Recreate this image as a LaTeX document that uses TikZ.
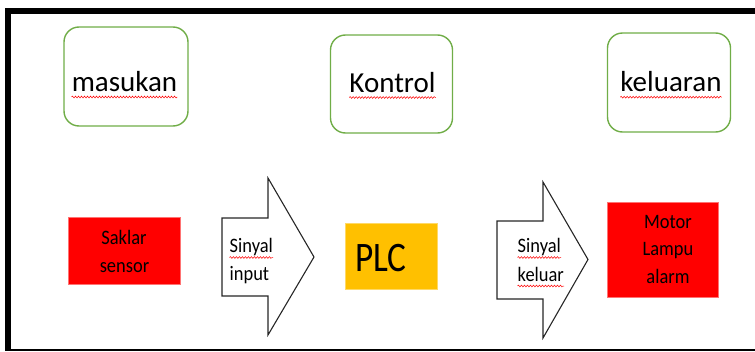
\documentclass[tikz,border=0pt]{standalone}
\usepackage{fontspec}
\setmainfont{Carlito}
\newfontfamily\condfont[FakeStretch=0.9]{Carlito}
\newfontfamily\plcfont[FakeStretch=0.84]{Carlito}
\usetikzlibrary{decorations.pathmorphing}
\definecolor{offgreen}{RGB}{112,173,71}
\definecolor{plcorange}{RGB}{255,192,0}
\begin{document}
\begin{tikzpicture}[x=1pt,y=-1pt,
  greenbox/.style={draw=offgreen,line width=1.4pt,rounded corners=15pt,fill=white,inner sep=0pt},
  redbox/.style={fill=red,draw=red!55!white,line width=0.5pt,inner sep=0pt},
  plcbox/.style={fill=plcorange,draw=plcorange!60!white,line width=0.5pt,inner sep=0pt},
  bigtxt/.style={font=\fontsize{29}{34}\selectfont,anchor=base,inner sep=0pt},
  smalltxt/.style={font=\condfont\fontsize{20.5}{24}\selectfont,anchor=base,inner sep=0pt},
  wavy/.style={draw=red,line width=0.5pt,decorate,decoration={snake,segment length=3pt,amplitude=0.9pt}},
  arrowshape/.style={draw=black!85,line width=1.1pt,fill=white,line join=miter}]
\useasboundingbox (0,0) rectangle (755,351);
% frame
\draw[line width=5.5pt] (7.8,349) -- (7.8,11) -- (760,11);
\draw[line width=2pt] (5,350) -- (760,350);
% top boxes
\node[greenbox,minimum width=124pt,minimum height=99pt] (inbox) at (126,76.5) {};
\node[greenbox,minimum width=122pt,minimum height=98pt] (ctlbox) at (391.5,84) {};
\node[greenbox,minimum width=123pt,minimum height=99pt] (outbox) at (669,82.5) {};
\node[bigtxt] (tin) at (124.5,91.5) {masukan};
\node[bigtxt] (tctl) at (392.5,92) {Kontrol};
\node[bigtxt] (tout) at (671,91.7) {keluaran};
\draw[wavy] ([yshift=-5.5pt]tin.base west) -- ([yshift=-5.5pt]tin.base east);
\draw[wavy] ([yshift=-5.5pt]tctl.base west) -- ([yshift=-5.5pt]tctl.base east);
\draw[wavy] ([yshift=-5.5pt]tout.base west) -- ([yshift=-5.5pt]tout.base east);
% bottom row
\node[redbox,minimum width=112pt,minimum height=67pt] (sbox) at (124,250.5) {};
\node[smalltxt] (s1) at (124,244) {Saklar};
\node[smalltxt] (s2) at (124.5,272.5) {sensor};
\draw[wavy] ([yshift=-4pt]s1.base west) -- ([yshift=-4pt]s1.base east);

\draw[arrowshape] (222,218) -- (268,218) -- (268,178) -- (314,257) -- (268,335) -- (268,296) -- (222,296) -- cycle;
\node[smalltxt,anchor=base west] (a1) at (229.5,252.5) {Sinyal};
\node[smalltxt,anchor=base west] (a2) at (229.5,280.5) {input};
\draw[wavy] ([yshift=-5pt]a1.base west) -- ([yshift=-5pt]a1.base east);

\node[plcbox,minimum width=92pt,minimum height=66pt] (pbox) at (391,256) {};
\node[font=\plcfont\fontsize{42}{48}\selectfont,anchor=base,inner sep=0pt] (plc) at (381,271.5) {PLC};

\draw[arrowshape] (497,221) -- (543,221) -- (543,182) -- (588,259.5) -- (543,338) -- (543,299) -- (497,299) -- cycle;
\node[smalltxt,anchor=base west] (b1) at (517.5,252.5) {Sinyal};
\node[smalltxt,anchor=base west] (b2) at (517.5,281) {keluar};
\draw[wavy] ([yshift=-5pt]b1.base west) -- ([yshift=-5pt]b1.base east);
\draw[wavy] ([yshift=-5pt]b2.base west) -- ([yshift=-5pt]b2.base east);

\node[redbox,minimum width=111pt,minimum height=95pt] (mbox) at (662.5,249.5) {};
\node[smalltxt] (m1) at (668,228) {Motor};
\node[smalltxt] (m2) at (668,255.5) {Lampu};
\node[smalltxt] (m3) at (668,283) {alarm};
\draw[wavy] ([yshift=-4pt]m2.base west) -- ([yshift=-4pt]m2.base east);
\end{tikzpicture}
\end{document}
